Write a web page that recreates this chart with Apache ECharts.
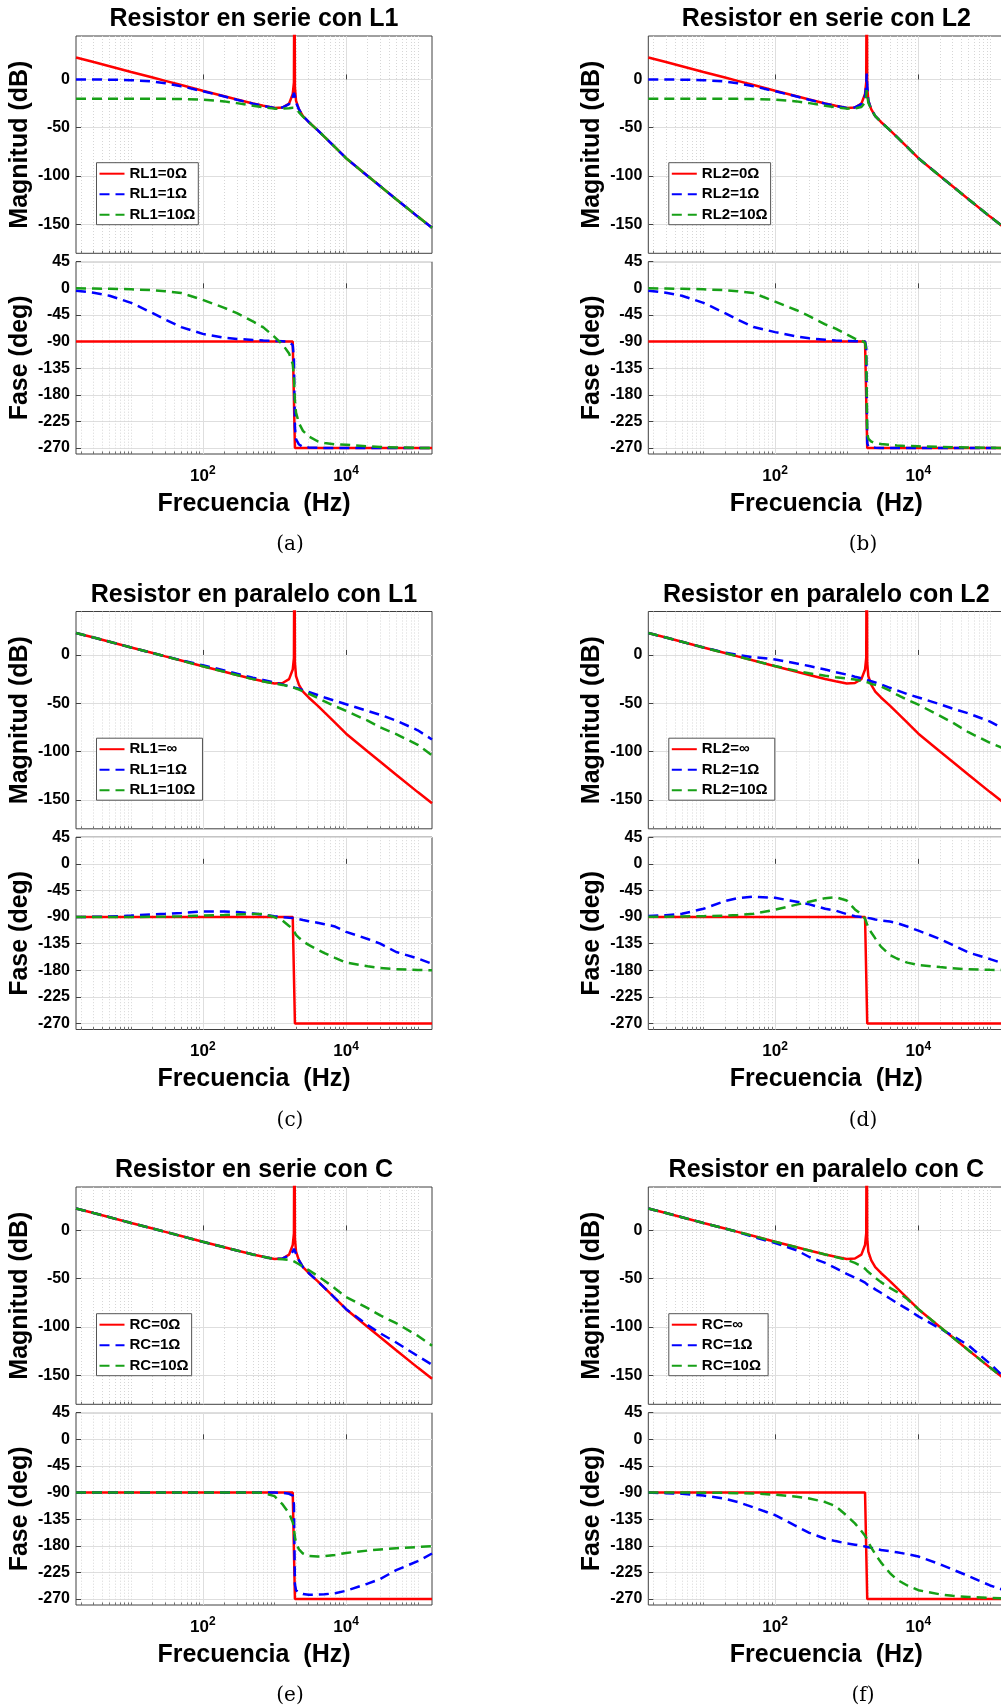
<!DOCTYPE html>
<html>
<head>
<meta charset="utf-8">
<script src="https://cdn.jsdelivr.net/npm/echarts@6.0.0/dist/echarts.min.js"></script>
<style>
  html, body { margin: 0; padding: 0; background: #fff; }
  #bode { width: 1001px; height: 1705px; }
</style>
</head>
<body>
<div id="bode"></div>
<script>
// frecuencias comunes (Hz)
const freq = [1.7, 3, 5, 10, 20, 30, 50, 100, 200, 300, 500, 700, 1000, 1300, 1600, 1800,
  1870, 1900, 1930, 2000, 2200, 2500, 3000, 4000, 5000, 7000, 10000, 20000, 30000, 50000, 100000, 158000];

// curva nominal (roja), igual en todos los casos
const nomMag = [22.8, 18.0, 13.7, 7.8, 2.0, -1.5, -5.8, -11.7, -17.4, -20.8, -24.8, -27.2, -29.6, -29.0, -25.0, -15.0,
  -3.0, 150, -8.0, -22.0, -31.0, -38.0, -44.0, -52.5, -59.5, -70.0, -81.5, -100.0, -110.6, -124.0, -142.0, -153.5];
const nomPh = [-90, -90, -90, -90, -90, -90, -90, -90, -90, -90, -90, -90, -90, -90, -90, -90,
  -90, -90, -270, -270, -270, -270, -270, -270, -270, -270, -270, -270, -270, -270, -270, -270];

// (a) serie con L1
const aBlueMag = [0, -0.1, -0.2, -0.7, -2.1, -3.9, -7.0, -12.2, -17.6, -21.0, -25.0, -27.3, -29.6, -29.0, -25.5, -18.0,
  -14.0, -12.8, -17.0, -24.0, -31.0, -38.0, -44.0, -52.5, -59.5, -70.0, -81.5, -100.0, -110.6, -124.0, -142.0, -153.5];
const aGreenMag = [-20, -20, -20, -20, -20.1, -20.1, -20.2, -20.8, -22.7, -24.5, -27.3, -28.8, -30.2, -30.2, -29.8, -29.2,
  -28.8, -28.6, -29.2, -30.5, -34.0, -38.5, -44.0, -52.5, -59.5, -70.0, -81.5, -100.0, -110.6, -124.0, -142.0, -153.5];
const aBluePh = [-4, -7.5, -12.5, -24.5, -42, -53, -65.5, -77, -83.5, -85.5, -87.3, -88.2, -88.8, -89.3, -90.5, -96,
  -120, -180, -235, -255, -264, -268, -269, -269.5, -270, -270, -270, -270, -270, -270, -270, -270];
const aGreenPh = [0, -0.4, -0.8, -1.6, -3.2, -4.8, -8, -19.5, -33, -42, -56, -66, -82, -95, -110, -128,
  -150, -170, -190, -210, -228, -241, -250, -258.5, -261.5, -263.5, -264.5, -267, -268, -269, -269.6, -270];

// (b) serie con L2
const bBlueMag = [0, -0.1, -0.2, -0.7, -2.1, -3.9, -7.0, -12.2, -17.6, -21.0, -25.0, -27.3, -29.6, -29.0, -25.5, -17.0,
  -6.0, 6.0, -6.0, -22.0, -31.0, -38.0, -44.0, -52.5, -59.5, -70.0, -81.5, -100.0, -110.6, -124.0, -142.0, -153.5];
const bGreenMag = [-20, -20, -20, -20, -20.1, -20.1, -20.2, -20.8, -22.7, -24.5, -27.3, -28.8, -30.2, -30.0, -28.5, -24.0,
  -16.0, -11.0, -16.0, -24.0, -31.0, -38.0, -44.0, -52.5, -59.5, -70.0, -81.5, -100.0, -110.6, -124.0, -142.0, -153.5];
const bBluePh = [-4, -7.5, -12.5, -24.5, -42, -53, -65.5, -74, -81.5, -84.5, -87, -88, -88.8, -89.3, -89.6, -90,
  -100, -180, -262, -267, -268.5, -269.5, -270, -270, -270, -270, -270, -270, -270, -270, -270, -270];
const bGreenPh = [0, -0.4, -0.8, -1.6, -3.2, -4.8, -8, -22.5, -37, -47, -61, -68, -78, -85, -88.5, -92,
  -105, -180, -245, -254, -259, -261.5, -263, -264.5, -265.5, -266.5, -267, -268, -268.5, -269, -269.5, -270];

// (c) paralelo con L1
const cBlueMag = [22.8, 18.0, 13.7, 7.8, 2.0, -1.5, -5.5, -10.7, -16.0, -19.5, -23.5, -26.0, -28.5, -30.5, -32.5, -33.3,
  -33.7, -33.9, -34.0, -34.3, -35.0, -36.5, -38.3, -41.5, -44.0, -47.5, -51.0, -58.0, -62.0, -68.0, -78.0, -87.5];
const cGreenMag = [22.8, 18.0, 13.7, 7.8, 2.0, -1.5, -5.8, -11.7, -17.4, -20.8, -25.0, -27.5, -29.5, -31.0, -32.5, -33.3,
  -33.7, -34.0, -34.3, -34.6, -35.8, -37.6, -40.0, -44.5, -48.0, -53.0, -58.0, -68.0, -75.0, -82.0, -93.0, -104.0];
const cBluePh = [-90, -89.5, -89, -87.5, -85.5, -84.5, -83, -80.5, -80.5, -81.5, -84, -86, -88.5, -90, -91, -91.5,
  -92, -92, -92, -92.5, -93.5, -95, -97, -99.5, -102, -106, -115, -127, -135, -149, -160, -169];
const cGreenPh = [-90, -90, -90, -89.8, -89.5, -89.2, -88.7, -87.5, -86.5, -85.8, -85, -84.8, -90, -96, -105, -111,
  -113, -115, -117, -120, -125, -131, -137, -145, -151, -159, -167, -173, -176, -178, -179.3, -180];

// (d) paralelo con L2
const dBlueMag = [22.8, 18.0, 13.7, 7.8, 2.5, 0, -2.3, -4.6, -8.8, -11.5, -15.0, -17.8, -20.3, -22.5, -24.2, -25.2,
  -25.6, -25.8, -26.0, -26.3, -27.2, -28.5, -30.5, -34.0, -36.5, -40.5, -44.0, -51.0, -55.5, -60.5, -69.0, -77.0];
const dGreenMag = [22.8, 18.0, 13.7, 7.8, 2.0, -1.5, -5.8, -11.5, -16.5, -19.0, -21.5, -23.0, -24.2, -25.5, -26.8, -27.5,
  -27.8, -28.0, -28.2, -28.6, -30.0, -31.0, -32.5, -37.0, -41.0, -46.5, -51.5, -63.0, -70.0, -80.0, -91.0, -97.0];
const dBluePh = [-88, -87, -84.5, -76, -63, -58, -55.5, -57.5, -64, -68.5, -76, -79, -85, -88.5, -90, -90.5,
  -90.8, -91, -91.2, -91.5, -92.5, -94, -96, -97.5, -100, -106, -113, -127, -137, -150, -161, -169];
const dGreenPh = [-89.5, -89.3, -89, -88.5, -87.5, -86.5, -84.5, -77.5, -69, -64, -58, -56.5, -62, -77, -85, -93,
  -98, -100, -103, -108, -116, -126, -140, -154, -160, -167, -171, -174.5, -176.5, -178.3, -179.2, -179.5];

// (e) serie con C
const eBlueMag = [22.8, 18.0, 13.7, 7.8, 2.0, -1.5, -5.8, -11.7, -17.4, -20.8, -24.8, -27.2, -29.6, -29.0, -26.0, -22.0,
  -19.0, -17.4, -19.0, -24.0, -31.0, -38.0, -44.0, -52.5, -59.5, -70.0, -81.5, -98.0, -106.5, -116.0, -130.0, -139.0];
const eGreenMag = [22.8, 18.0, 13.7, 7.8, 2.0, -1.5, -5.8, -11.7, -17.4, -20.8, -24.8, -27.2, -29.6, -29.8, -30.5, -31.5,
  -32.0, -32.3, -32.6, -33.3, -35.0, -37.5, -41.0, -47.0, -52.0, -60.0, -69.0, -80.5, -88.0, -96.0, -109.0, -119.3];
const eBluePh = [-90, -90, -90, -90, -90, -90, -90, -90, -90, -90, -90, -90, -90, -90.5, -92, -95,
  -110, -180, -245, -255, -259, -261.5, -262.5, -262.5, -262, -260, -256, -244, -236, -221, -206, -193];
const eGreenPh = [-90, -90, -90, -90, -90, -90, -90, -90, -90, -90, -90, -90.5, -96, -110, -125, -140,
  -150, -158, -165, -175, -186, -193, -197, -198, -197.5, -195.5, -192, -188, -186, -184, -182, -180.5];

// (f) paralelo con C
const fBlueMag = [22.8, 18.0, 13.7, 7.8, 2.0, -1.5, -6.7, -13.0, -20.5, -27.5, -33.5, -39.0, -45.0, -49.0, -52.0, -54.0,
  -55.0, -55.5, -56.0, -56.5, -58.0, -61.0, -64.5, -70.5, -75.0, -81.5, -89.0, -101.5, -109.0, -119.0, -138.0, -152.0];
const fGreenMag = [22.8, 18.0, 13.7, 7.8, 2.0, -1.5, -5.8, -11.7, -17.4, -20.8, -24.8, -27.5, -30.5, -33.5, -37.0, -39.5,
  -41.0, -41.5, -42.0, -43.0, -45.5, -49.0, -53.5, -59.5, -63.5, -71.0, -81.5, -100.0, -110.6, -124.0, -142.0, -153.5];
const fBluePh = [-90, -91, -92, -95, -100.5, -106, -115, -128, -147, -158, -168, -172, -176, -178, -180, -181,
  -181.5, -181.7, -182, -182.5, -183.5, -185, -187, -189, -191, -194, -198, -211, -220, -231, -247, -255];
const fGreenPh = [-90, -90, -90, -90.2, -90.5, -91, -91.5, -93.5, -97, -100, -106, -113, -129, -142, -155, -163,
  -166, -168, -170, -174, -183, -194, -208, -226, -237, -247, -255, -262, -264.5, -266.5, -268, -268.5];

const magTicks = [-150, -100, -50, 0];
const phaseTicks = [-270, -225, -180, -135, -90, -45, 0, 45];
const decadeTicks = [100, 10000];

const panels = [
  { title: 'Resistor en serie con L1', tag: '(a)', names: ['RL1=0Ω', 'RL1=1Ω', 'RL1=10Ω'],
    mag: [nomMag, aBlueMag, aGreenMag], ph: [nomPh, aBluePh, aGreenPh] },
  { title: 'Resistor en serie con L2', tag: '(b)', names: ['RL2=0Ω', 'RL2=1Ω', 'RL2=10Ω'],
    mag: [nomMag, bBlueMag, bGreenMag], ph: [nomPh, bBluePh, bGreenPh] },
  { title: 'Resistor en paralelo con L1', tag: '(c)', names: ['RL1=∞', 'RL1=1Ω ', 'RL1=10Ω '],
    mag: [nomMag, cBlueMag, cGreenMag], ph: [nomPh, cBluePh, cGreenPh] },
  { title: 'Resistor en paralelo con L2', tag: '(d)', names: ['RL2=∞', 'RL2=1Ω ', 'RL2=10Ω '],
    mag: [nomMag, dBlueMag, dGreenMag], ph: [nomPh, dBluePh, dGreenPh] },
  { title: 'Resistor en serie con C', tag: '(e)', names: ['RC=0Ω', 'RC=1Ω', 'RC=10Ω'],
    mag: [nomMag, eBlueMag, eGreenMag], ph: [nomPh, eBluePh, eGreenPh] },
  { title: 'Resistor en paralelo con C', tag: '(f)', names: ['RC=∞', 'RC=1Ω ', 'RC=10Ω '],
    mag: [nomMag, fBlueMag, fGreenMag], ph: [nomPh, fBluePh, fGreenPh] }
];

// rayas menores del eje log (2..9 por decada, menos 10^2 y 10^4)
const minorTicks = [];
for (let e = 0; e <= 5; e++) {
  for (let k = 1; k <= 9; k++) {
    const v = k * Math.pow(10, e);
    if (k === 1 && (e === 2 || e === 4)) continue;
    if (v > 1.7 && v < 158000) minorTicks.push(v);
  }
}

const colors = ['#ff0000', '#0000ff', '#17a017'];
const dashes = ['solid', [10, 6], [10, 6]];
const font = 'Liberation Sans';

const colX = [76, 648.3];
const rowY = [0, 575.5, 1151];
const plotW = 356;

const grids = [], xAxes = [], yAxes = [], series = [], titles = [], legends = [];

panels.forEach(function (p, i) {
  const c = i % 2, r = Math.floor(i / 2);
  const x0 = colX[c], y0 = rowY[r];

  titles.push({
    text: p.title, left: x0 + plotW / 2, top: y0 + 5.5, textAlign: 'center', padding: 0,
    textStyle: { fontFamily: font, fontWeight: 'bold', fontSize: 25, lineHeight: 28, color: '#000' }
  });
  titles.push({
    text: p.tag, left: 290 + c * 573, top: y0 + 533, textAlign: 'center', padding: 0,
    textStyle: { fontFamily: 'DejaVu Serif', fontWeight: 'normal', fontSize: 20, lineHeight: 24, color: '#000' }
  });

  legends.push({
    orient: 'vertical', left: x0 + 20.5, top: y0 + 162.7,
    data: p.names, selectedMode: false,
    itemWidth: 25, itemHeight: 16, itemGap: 4.5,
    padding: [3, 3, 2, 2],
    borderColor: '#555', borderWidth: 1, borderRadius: 0, backgroundColor: '#fff',
    itemStyle: { opacity: 0 },
    textStyle: { fontFamily: font, fontWeight: 'bold', fontSize: 15, lineHeight: 16, color: '#000' }
  });

  ['mag', 'ph'].forEach(function (kind) {
    const g = grids.length;
    const isPh = kind === 'ph';
    grids.push({
      left: x0, width: plotW,
      top: y0 + (isPh ? 261.7 : 36), height: isPh ? 192.3 : 217.3,
      show: true, backgroundColor: '#fff', borderColor: '#404040', borderWidth: 1,
      containLabel: false, outerBoundsMode: 'none'
    });

    // eje principal (decadas)
    xAxes.push({
      type: 'log', logBase: 10, gridIndex: g, min: 1.7, max: 158000, position: 'bottom',
      axisLine: { show: false },
      axisTick: { show: true, inside: true, length: 5, customValues: decadeTicks, lineStyle: { color: '#404040' } },
      axisLabel: {
        show: isPh, customValues: decadeTicks, margin: 11,
        formatter: function (v) { return '{b|10}{s|' + Math.round(Math.log10(v)) + '}'; },
        rich: {
          b: { fontFamily: font, fontWeight: 'bold', fontSize: 17, lineHeight: 22, color: '#000' },
          s: { fontFamily: font, fontWeight: 'bold', fontSize: 12, lineHeight: 6, verticalAlign: 'top', color: '#000' }
        }
      },
      splitLine: { show: true, lineStyle: { color: '#dedede', width: 1 } },
      name: isPh ? 'Frecuencia  (Hz)' : '', nameLocation: 'middle', nameGap: 36,
      nameTextStyle: { fontFamily: font, fontWeight: 'bold', fontSize: 25, lineHeight: 28, color: '#000' }
    });
    // eje de rejilla menor
    xAxes.push({
      type: 'log', logBase: 10, gridIndex: g, min: 1.7, max: 158000, position: 'bottom',
      axisLine: { show: false }, axisLabel: { show: false },
      axisTick: { show: true, inside: true, length: 2.5, customValues: minorTicks, lineStyle: { color: '#707070' } },
      splitLine: { show: true, lineStyle: { color: '#d6d6d6', width: 1, type: [1, 2] } }
    });

    const ticks = isPh ? phaseTicks : magTicks;
    yAxes.push({
      type: 'value', gridIndex: g, min: isPh ? -280 : -180, max: 45,
      axisLine: { show: false },
      axisTick: { show: true, inside: true, length: 5, customValues: ticks, lineStyle: { color: '#404040' } },
      axisLabel: { customValues: ticks, margin: 6, fontFamily: font, fontWeight: 'bold', fontSize: 16, color: '#000' },
      splitLine: { show: true, lineStyle: { color: '#dedede', width: 1 } },
      name: isPh ? 'Fase (deg)' : 'Magnitud (dB)', nameLocation: 'middle', nameGap: 42,
      nameTextStyle: { fontFamily: font, fontWeight: 'bold', fontSize: 25, lineHeight: 28, color: '#000' }
    });

    p[kind].forEach(function (vals, k) {
      series.push({
        name: p.names[k], type: 'line',
        xAxisIndex: 2 * g, yAxisIndex: g,
        data: freq.map(function (f, j) { return [f, vals[j]]; }),
        symbol: 'none', showSymbol: false, clip: true, z: 2 + k,
        lineStyle: { color: colors[k], width: 2.5, type: dashes[k] },
        itemStyle: { color: colors[k] },
        emphasis: { disabled: true }
      });
    });
  });
});

const chart = echarts.init(document.getElementById('bode'), null, { renderer: 'canvas' });
chart.setOption({
  animation: false,
  backgroundColor: '#fff',
  title: titles,
  legend: legends,
  grid: grids,
  xAxis: xAxes,
  yAxis: yAxes,
  series: series
});
</script>
</body>
</html>
